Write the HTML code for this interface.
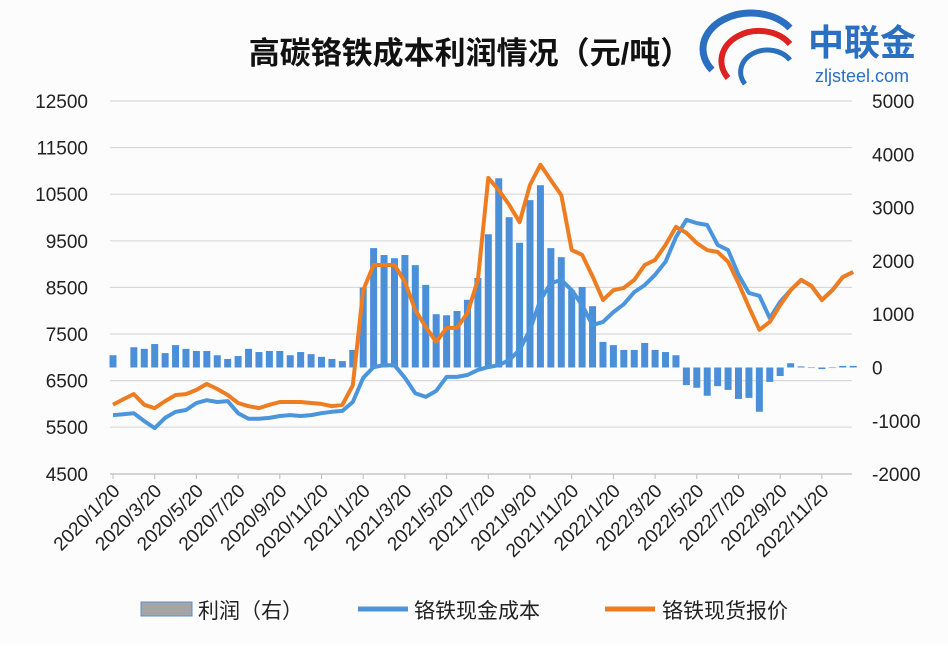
<!DOCTYPE html>
<html><head><meta charset="utf-8"><style>
body{margin:0;background:#fff;width:948px;height:644px;overflow:hidden}
svg text{font-family:"Liberation Sans","Noto Sans CJK SC",sans-serif}
</style></head><body>
<svg id="c" width="948" height="644" xmlns="http://www.w3.org/2000/svg">
<rect x="0" y="0" width="948" height="644" fill="#fcfcfc"/>
<text x="470" y="64" text-anchor="middle" font-size="31" font-weight="bold" fill="#111">高碳铬铁成本利润情况（元/吨）</text>
<g>
<path d="M712 70 A40 30 0 0 1 790 28" stroke="#2a6fc0" stroke-width="7" fill="none"/>
<path d="M728 78 A30 24 0 0 1 790 44" stroke="#d22" stroke-width="6" fill="none"/>
<path d="M745 84 A22 18 0 0 1 790 60" stroke="#2a6fc0" stroke-width="5" fill="none"/>
<text x="862" y="55" text-anchor="middle" font-size="36" font-weight="bold" fill="#2a6fc0">中联金</text>
<text x="862" y="82" text-anchor="middle" font-size="18" fill="#2a6fc0">zljsteel.com</text>
</g>
<g id="grid"></g><g id="bars"></g><g id="lines"></g><g id="axes"></g>
<g>
<rect x="141" y="602" width="51" height="14" fill="#a5a5a5" stroke="#5b8ed0"/>
<text x="198" y="618" font-size="21" fill="#222">利润（右）</text>
<line x1="358" y1="609" x2="408" y2="609" stroke="#4a95db" stroke-width="5"/>
<text x="414" y="618" font-size="21" fill="#222">铬铁现金成本</text>
<line x1="605" y1="609" x2="655" y2="609" stroke="#ee7d22" stroke-width="5"/>
<text x="662" y="618" font-size="21" fill="#222">铬铁现货报价</text>
</g>
</svg>
<script>
const tickLabels=["2020/1/20","2020/3/20","2020/5/20","2020/7/20","2020/9/20","2020/11/20","2021/1/20","2021/3/20","2021/5/20","2021/7/20","2021/9/20","2021/11/20","2022/1/20","2022/3/20","2022/5/20","2022/7/20","2022/9/20","2022/11/20"];
const leftTicks=[12500,11500,10500,9500,8500,7500,6500,5500,4500];
const rightTicks=[5000,4000,3000,2000,1000,0,-1000,-2000];
const price=[5980,6100,6210,5980,5910,6060,6190,6210,6300,6430,6320,6190,6020,5950,5910,5980,6040,6040,6040,6020,6000,5950,5980,6400,8440,8980,8980,8980,8620,8010,7650,7330,7630,7630,7950,8660,10850,10590,10270,9900,10700,11130,10800,10480,9300,9200,8740,8230,8440,8490,8660,8980,9090,9410,9800,9670,9450,9300,9260,9050,8590,8080,7590,7760,8120,8440,8660,8530,8230,8440,8720,8830];
const cost=[5760,5780,5800,5630,5480,5700,5830,5870,6020,6080,6040,6060,5800,5680,5680,5700,5740,5760,5740,5760,5800,5830,5850,6040,6560,6790,6830,6830,6560,6230,6150,6280,6580,6580,6620,6730,6790,6830,6940,7160,7590,8230,8590,8660,8440,8120,7690,7760,7970,8140,8400,8550,8770,9050,9580,9950,9880,9840,9410,9300,8770,8380,8320,7840,8190,8440,8660,8530,8230,8440,8720,8830];
const profit=[230,0,380,350,440,270,420,350,310,310,230,160,215,350,290,310,310,230,290,250,200,160,120,330,1500,2240,2110,2050,2110,1920,1550,1000,980,1060,1270,1680,2500,3550,2820,2340,3140,3420,2240,2070,1450,1510,1150,480,420,330,330,460,330,290,230,-330,-380,-530,-350,-420,-590,-570,-830,-270,-160,80,20,-10,-30,-10,30,30];
const NS="http://www.w3.org/2000/svg";
const X=i=>113+i*0.5*20.85;
const YL=v=>101+(12500-v)/1000*46.6;
const YR=v=>367.5-v/1000*53.3;
function mk(t,a,p){const e=document.createElementNS(NS,t);for(const k in a)e.setAttribute(k,a[k]);p.appendChild(e);return e;}
const grid=document.getElementById('grid'),axes=document.getElementById('axes'),bars=document.getElementById('bars'),lines=document.getElementById('lines');
leftTicks.forEach(v=>{
  if(v>4500){const g=mk('line',{x1:110,x2:852,y1:YL(v),y2:YL(v),stroke:'#d9d9d9','stroke-width':1.2},grid);
  
  }
  const t=mk('text',{x:88,y:YL(v)+7,'text-anchor':'end','font-size':19,fill:'#222'},axes);t.textContent=v;
  
  
});
rightTicks.forEach(v=>{
  const t=mk('text',{x:872,y:YR(v)+7,'font-size':19,fill:'#222'},axes);t.textContent=v;
  
  
});
const ax=mk('line',{x1:110,x2:852,y1:474,y2:474,stroke:'#bbb','stroke-width':1.2},axes);


tickLabels.forEach((s,i)=>{
  const x=X(i*4);
  const tk=mk('line',{x1:x,x2:x,y1:474,y2:479,stroke:'#bbb'},axes);
  
  
  const t=mk('text',{x:x+8,y:492,'text-anchor':'end','font-size':19,fill:'#222',transform:`rotate(-45 ${x+8} 492)`},axes);t.textContent=s;
  
  
});
profit.forEach((v,i)=>{
  if(v===0)return;
  const y0=YR(0),y1=YR(v);
  const r=mk('rect',{x:X(i)-3.5,y:Math.min(y0,y1),width:7,height:Math.abs(y1-y0),fill:'#4a8fd8'},bars);
  
  
});
function line(arr,col,name){
  const d=arr.map((v,i)=>(i?'L':'M')+X(i).toFixed(1)+' '+YL(v).toFixed(1)).join(' ');
  const p=mk('path',{d:d,fill:'none',stroke:col,'stroke-width':4,'stroke-linejoin':'round'},lines);
  
  
}
line(cost,'#4a95db','cost-line');
line(price,'#ee7d22','price-line');
</script>
</body></html>
